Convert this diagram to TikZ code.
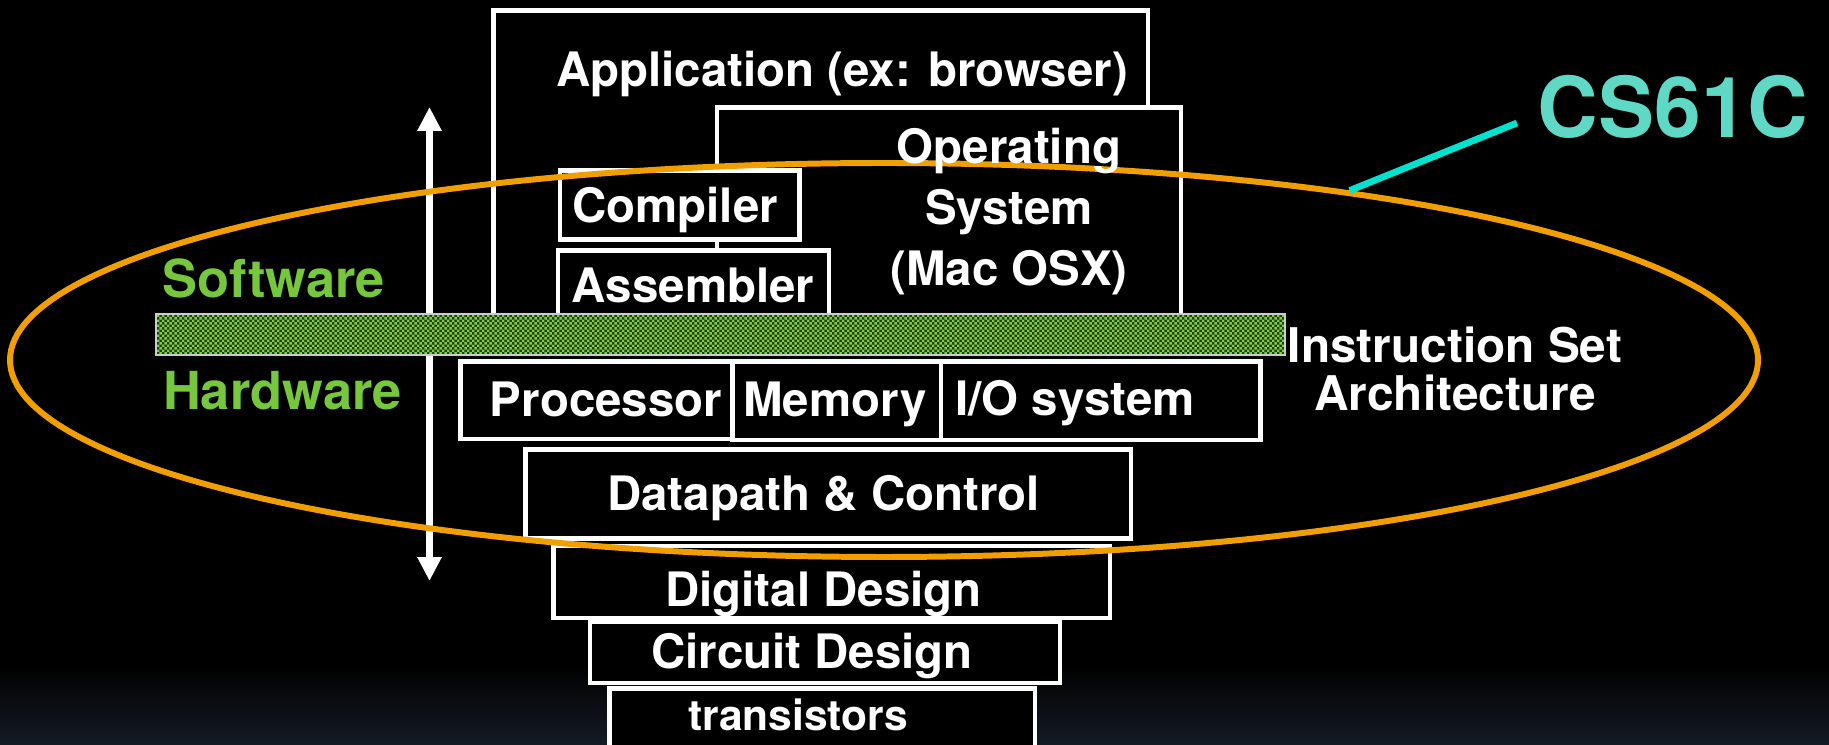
\documentclass[tikz,border=0pt]{standalone}
\usepackage{fontspec}
\setmainfont{TeX Gyre Heros}
\usetikzlibrary{arrows.meta, shapes.geometric, fit, patterns.meta}

\definecolor{ringorange}{RGB}{240,158,0}
\definecolor{leadcyan}{RGB}{0,226,208}
\definecolor{coursecyan}{RGB}{96,216,198}
\definecolor{swgreen}{RGB}{118,198,62}
\definecolor{isagreen}{RGB}{126,206,66}
\definecolor{isabase}{RGB}{36,62,18}
\definecolor{floorblue}{RGB}{21,27,37}

% fine green/black chequer for the ISA bar
\tikzdeclarepattern{
  name=chequer, type=uncolored,
  bounding box={(0pt,0pt) and (1.4pt,1.4pt)},
  tile size={(1.4pt,1.4pt)},
  code={
    \fill (0pt,0pt) rectangle (0.7pt,0.7pt);
    \fill (0.7pt,0.7pt) rectangle (1.4pt,1.4pt);
  }
}

\newcommand{\layerfont}{\fontsize{13.5pt}{17.4pt}\selectfont\bfseries}

\begin{document}
\begin{tikzpicture}[
    x=0.1mm, y=-0.1mm,
    >={Triangle[width=6.5pt,length=6.8pt]},
    stackbox/.style={draw=white, line width=1.4pt, fill=black, inner sep=0pt},
    stacktext/.style={anchor=base, inner sep=0pt, text=white, font=\layerfont},
    sidetext/.style={anchor=base, inner sep=0pt, text=swgreen, font=\fontsize{14.9pt}{18pt}\selectfont\bfseries}
]
% page, with a dark blue floor
\fill[black] (0,0) rectangle (1829,745);
\shade[top color=black, bottom color=floorblue] (0,665) rectangle (1829,745);
\useasboundingbox (0,0) rectangle (1829,745);

% software <-> hardware arrow
\coordinate (up) at (429.5,107);
\coordinate (down) at (429.5,581);
\draw[white, line width=2pt, <->] (up) -- (down);

% software layers
\node[stackbox, fit={(493.5,10.5) (1148,335)}] (app) {};
\node[stackbox, fit={(717,107.5) (1181,335)}] (os) {};
\node[stackbox, fit={(560,170.5) (799.5,239.5)}] (comp) {};
\node[stackbox, fit={(558,250.5) (829,335)}] (asm) {};

% instruction set bar
\node[draw=black!20, line width=0.45pt, preaction={fill=isabase},
      pattern=chequer, pattern color=isagreen, inner sep=0pt,
      fit={(156,314) (1285,355)}] (isa) {};

% hardware layers
\node[stackbox, fit={(460.5,361.5) (732.5,439)}] (cpu) {};
\node[stackbox, fit={(732.5,361.5) (941,440)}] (mem) {};
\node[stackbox, fit={(941,361.5) (1260.5,440)}] (io) {};
\node[stackbox, fit={(525.5,449.5) (1131,538.5)}] (dp) {};
\node[stackbox, fit={(553.5,546) (1110,618)}] (dig) {};
\node[stackbox, fit={(590,621.5) (1060,683)}] (circ) {};
\node[stackbox, fit={(609.5,688.5) (1035,752)}] (trans) {};

% ring round the ISA
\node[ellipse, draw=ringorange, line width=1.7pt, inner sep=0pt,
      minimum width=174.8mm, minimum height=39.4mm] (ring) at (884,360) {};

% labels
\node[stacktext] (app_t) at (842,87) {Application (ex: browser)};
\node[stacktext, anchor=center, align=center] (os_t) at (1009,211.5) {Operating\\System\\(Mac OSX)};
\node[stacktext] (comp_t) at (675,223) {Compiler};
\node[stacktext] (asm_t) at (693,303) {Assembler};
\node[sidetext] (sw_t) at (274,298) {Software};
\node[sidetext] (hw_t) at (282.5,410) {Hardware};
\node[stacktext] (cpu_t) at (606,417) {Processor};
\node[stacktext] (mem_t) at (835,417) {Memory};
\node[stacktext] (io_t) at (1075,416) {I/O system};
\node[stacktext] (dp_t) at (823.5,511) {Datapath \& Control};
\node[stacktext] (dig_t) at (823.5,606) {Digital Design};
\node[stacktext] (circ_t) at (812,668) {Circuit Design};
\node[stacktext, font=\fontsize{12.1pt}{14pt}\selectfont\bfseries] (trans_t) at (798,730) {transistors};
\node[stacktext, anchor=center, align=center, font=\fontsize{13.6pt}{13.6pt}\selectfont\bfseries]
    (isa_t) at (1455,369) {Instruction Set\\Architecture};

% course tag
\node[anchor=base, inner sep=0pt, text=coursecyan, font=\fontsize{23.9pt}{28pt}\selectfont\bfseries]
    (course) at (1673,138) {CS61C};
\coordinate (lead) at (1517,123);
\draw[leadcyan, line width=1.9pt] (lead) -- (ring.20);
\end{tikzpicture}
\end{document}
